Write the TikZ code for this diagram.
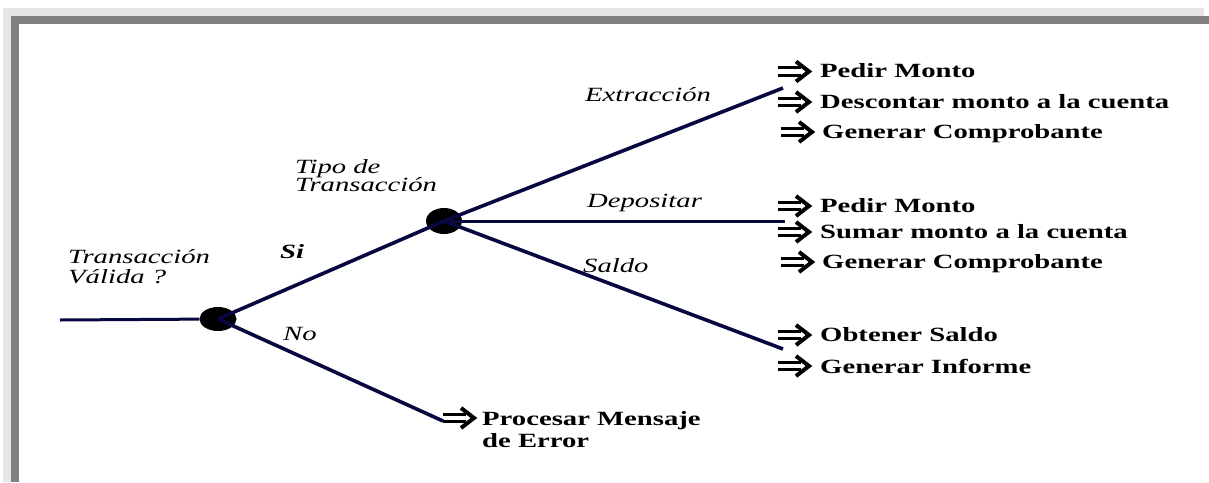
\documentclass[tikz,border=0pt]{standalone}
\usepackage{fontspec}
\usetikzlibrary{shapes.geometric}
\newfontfamily\lblfont{Liberation Serif}[FakeStretch=1.42]
\definecolor{linenavy}{RGB}{8,8,64}
\definecolor{framelight}{RGB}{230,230,230}
\definecolor{framedark}{RGB}{128,128,128}
\begin{document}
\begin{tikzpicture}[x=1pt,y=-1pt,
  txt/.style={anchor=base west, inner sep=0pt, font=\lblfont\fontsize{20.2}{22}\selectfont\bfseries},
  itl/.style={anchor=base west, inner sep=0pt, font=\lblfont\fontsize{20.2}{22}\selectfont\itshape},
  bitl/.style={anchor=base west, inner sep=0pt, font=\lblfont\fontsize{20.2}{22}\selectfont\bfseries\itshape},
  dot/.style={ellipse, fill=black, inner sep=0pt, minimum width=37pt, minimum height=24pt},
  branch/.style={draw=linenavy, line width=3.6pt},
  flat/.style={draw=linenavy, line width=3pt},
  pics/dblarr/.style={code={
    \draw[line width=3.2pt] (0,-3.8) -- (23,-3.8) (0,3.8) -- (23,3.8);
    \draw[line width=4pt, miter limit=10] (18,-10) -- (31,0) -- (18,10);
  }}]
\useasboundingbox (0,0) rectangle (1209,482);
\fill[white] (0,0) rectangle (1209,482);
% frame
\fill[framelight] (3,8) rectangle (1204,16);
\fill[framelight] (3,8) rectangle (11,482);
\fill[framedark] (11,16) rectangle (1209,24);
\fill[framedark] (11,16) rectangle (19,482);

% decision points
\node[dot] (n1) at (218,319) {};
\node[dot, minimum width=36pt, minimum height=26pt] (n2) at (444,221) {};

\coordinate (start) at (60,320);
\coordinate (ex) at (783,88);
\coordinate (dp) at (785,221);
\coordinate (sl) at (783,349);
\coordinate (er) at (443,421);

\draw[flat] (start) -- (n1);
\draw[branch] (n1.center) -- (n2.center);
\draw[branch] (n1.center) -- (er);
\draw[branch] (n2.center) -- (ex);
\draw[flat] (n2.center) -- (dp);
\draw[branch] (n2.center) -- (sl);

% labels
\node[itl] (tv1) at (68,263) {Transacción};
\node[itl] (tv2) at (68,283) {Válida ?};
\node[itl] (tt1) at (295,173) {Tipo de};
\node[itl] (tt2) at (295,191) {Transacción};
\node[bitl] (si) at (280,258) {Si};
\node[itl] (no) at (283,340) {No};
\node[itl] (lex) at (585,101) {Extracción};
\node[itl] (ldp) at (587,207) {Depositar};
\node[itl] (lsl) at (583,272) {Saldo};

% actions
\pic at (778,71.5) {dblarr};
\node[txt] (a1) at (820,77) {Pedir Monto};
\pic at (778,102) {dblarr};
\node[txt] (a2) at (820,108) {Descontar monto a la cuenta};
\pic at (781,132) {dblarr};
\node[txt] (a3) at (822,138) {Generar Comprobante};

\pic at (778,206) {dblarr};
\node[txt] (b1) at (820,212) {Pedir Monto};
\pic at (778,232) {dblarr};
\node[txt] (b2) at (820,238) {Sumar monto a la cuenta};
\pic at (781,262) {dblarr};
\node[txt] (b3) at (822,268) {Generar Comprobante};

\pic at (778,335) {dblarr};
\node[txt] (c1) at (820,341) {Obtener Saldo};
\pic at (778,366) {dblarr};
\node[txt] (c2) at (820,373) {Generar Informe};

\pic at (443,418) {dblarr};
\node[txt] (d1) at (482,425) {Procesar Mensaje};
\node[txt] (d2) at (482,447) {de Error};
\end{tikzpicture}
\end{document}
